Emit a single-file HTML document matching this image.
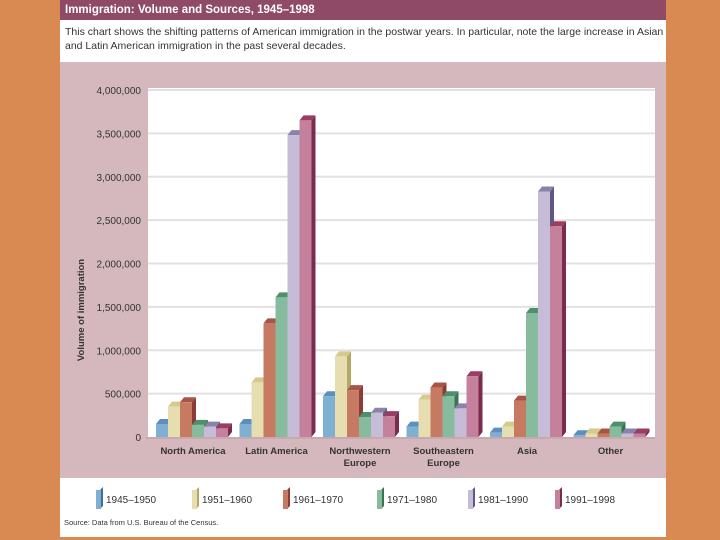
<!DOCTYPE html>
<html><head><meta charset="utf-8"><style>
body{margin:0;width:720px;height:540px;background:#d98a52;position:relative;overflow:hidden;font-family:"Liberation Sans",sans-serif}
#panel{position:absolute;left:60px;top:0;width:606px;height:537px;background:#fff}
#hdr{position:absolute;left:0;top:0;width:606px;height:20px;background:#8f4a68;color:#fff;font-weight:bold;font-size:11.5px;line-height:20px;padding-left:5px;box-sizing:border-box}
#desc{position:absolute;left:5px;top:25px;width:600px;font-size:10.5px;line-height:14px;color:#333}
#pink{position:absolute;left:0;top:62px;width:606px;height:416px;background:#d5b8bd}
#src{position:absolute;left:4px;top:518px;font-size:7.5px;color:#333}
</style></head><body>
<div id="panel">
<div id="hdr">Immigration: Volume and Sources, 1945–1998</div>
<div id="desc">This chart shows the shifting patterns of American immigration in the postwar years. In particular, note the large increase in Asian and Latin American immigration in the past several decades.</div>
<div id="pink"></div>
<div id="src">Source: Data from U.S. Bureau of the Census.</div>
</div>
<svg id="chart" width="720" height="540" style="position:absolute;left:0;top:0"></svg>
<script>
const categories=["North America","Latin America","Northwestern|Europe","Southeastern|Europe","Asia","Other"];
const seriesNames=["1945–1950","1951–1960","1961–1970","1971–1980","1981–1990","1991–1998"];
const v1945=[150000,150000,470000,120000,50000,20000];
const v1951=[350000,630000,930000,430000,120000,40000];
const v1961=[400000,1310000,540000,570000,420000,40000];
const v1971=[140000,1610000,230000,470000,1430000,120000];
const v1981=[120000,3480000,280000,330000,2830000,40000];
const v1991=[100000,3650000,240000,700000,2430000,40000];
const tickValues=[0,500000,1000000,1500000,2000000,2500000,3000000,3500000,4000000];
const series=[v1945,v1951,v1961,v1971,v1981,v1991];
const colors=[["#7fb0d2","#5a8fbf","#3d6f9a"],["#e6ddb0","#d6c98c","#b5a865"],["#c77a62","#a85448","#8a3c36"],["#86bb9d","#4e8f6c","#3b7455"],["#c6bcd8","#8a82a8","#5f5880"],["#c5809b","#9a3d63","#7a2c4c"]];
const NS="http://www.w3.org/2000/svg";
const svg=document.getElementById('chart');
const X0=148,X1=655,Y0=437,Y1=90,MAX=4000000;
function y(v){return Y0-(v/MAX)*(Y0-Y1);}
function gx(i){return 156+83.5*i;}
function bx(i,s){return gx(i)+s*12;}
function mk(t,a){const e=document.createElementNS(NS,t);for(const k in a)e.setAttribute(k,a[k]);svg.appendChild(e);return e;}
let r=mk('rect',{x:X0,y:88,width:X1-X0,height:Y0-88,fill:'#fff'});


tickValues.forEach(t=>{
 if(t>0){let g=mk('line',{x1:X0,x2:X1,y1:y(t),y2:y(t),stroke:'#e4e0e2','stroke-width':2});
 
 }
 let l=mk('text',{x:141,y:y(t)+4,'text-anchor':'end','font-size':'10',fill:'#333'});
 l.textContent=t.toLocaleString('en-US');
 
 
});
let yt=mk('text',{x:0,y:0,transform:'translate(84,310) rotate(-90)','text-anchor':'middle','font-size':'9.5','font-weight':'bold',fill:'#333'});
yt.textContent='Volume of immigration';


const W=12,D=4,H=5;
categories.forEach((c,i)=>{
 series.forEach((arr,s)=>{
  const x=bx(i,s),top=y(arr[i]),col=colors[s];
  let side=mk('polygon',{points:`${x+W},${top} ${x+W+D},${top-H} ${x+W+D},${Y0-H} ${x+W},${Y0}`,fill:col[2]});
  
  
  let tp=mk('polygon',{points:`${x},${top} ${x+D},${top-H} ${x+W+D},${top-H} ${x+W},${top}`,fill:col[1]});
  
  
  let b=mk('rect',{x:x,y:top,width:W,height:Y0-top,fill:col[0]});
  
  
 });
 const cx=gx(i)+37;
 c.split('|').forEach((ln,k)=>{
  let t=mk('text',{x:cx,y:454+k*12,'text-anchor':'middle','font-size':'9.5','font-weight':'bold',fill:'#333'});
  t.textContent=ln;
  
  
 });
});
let ax=mk('line',{x1:X0-2,x2:X1,y1:Y0+1,y2:Y0+1,stroke:'#c7a9ae','stroke-width':2});


const legX=[100,196,287,381,472,559];
seriesNames.forEach((n,s)=>{
 const lx=legX[s],col=colors[s];
 let p=mk('polygon',{points:`${lx},${490} ${lx+3},${487} ${lx+3},${506} ${lx},${509}`,fill:col[2]});
 
 
 let sw=mk('rect',{x:lx-4,y:490,width:5,height:19,fill:col[0]});
 
 
 let t=mk('text',{x:lx+6,y:503,'font-size':'10',fill:'#333'});
 t.textContent=n;
 
 
});
</script>
</body></html>
